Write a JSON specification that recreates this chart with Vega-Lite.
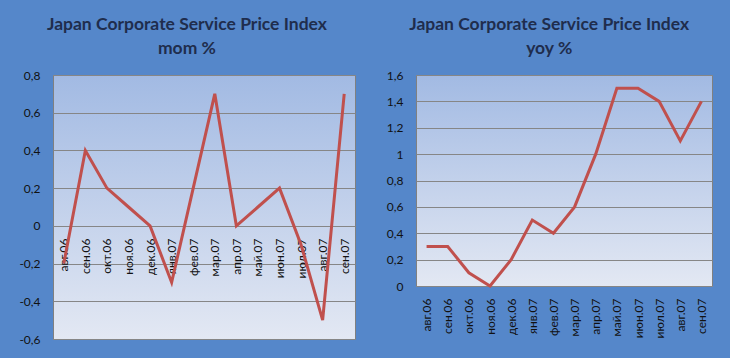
{
  "$schema": "https://vega.github.io/schema/vega-lite/v6.json",
  "background": "#5587CA",
  "padding": {"left": 18, "top": 15, "right": 18, "bottom": 18},
  "spacing": 29,
  "config": {
    "font": "Lato",
    "view": {"stroke": "#808080", "strokeWidth": 1, "fill": {"gradient": "linear", "x1": 0, "y1": 0, "x2": 0, "y2": 1, "stops": [{"offset": 0, "color": "#A2BAE3"}, {"offset": 1, "color": "#E3E8F3"}]}},
    "axis": {"labelFont": "Lato", "labelFontSize": 12, "labelColor": "#111111", "domain": false, "ticks": false, "title": null, "labelOverlap": false, "gridColor": "#868686"},
    "title": {"font": "Lato", "fontSize": 17.5, "fontWeight": "bold", "color": "#1F2D4D", "anchor": "middle", "frame": "bounds", "lineHeight": 24, "offset": 12}
  },
  "hconcat": [
    {
      "width": 302,
      "height": 264,
      "title": {"text": ["Japan Corporate Service Price Index", "mom %"]},
      "data": {"values": [
        {"month": "авг.06", "v": -0.2}, {"month": "сен.06", "v": 0.4}, {"month": "окт.06", "v": 0.2}, {"month": "ноя.06", "v": 0.1},
        {"month": "дек.06", "v": 0}, {"month": "янв.07", "v": -0.3}, {"month": "фев.07", "v": 0.2}, {"month": "мар.07", "v": 0.7},
        {"month": "апр.07", "v": 0}, {"month": "май.07", "v": 0.1}, {"month": "июн.07", "v": 0.2}, {"month": "июл.07", "v": -0.1},
        {"month": "авг.07", "v": -0.5}, {"month": "сен.07", "v": 0.7}
      ]},
      "mark": {"type": "line", "color": "#C0504D", "strokeWidth": 3},
      "encoding": {
        "x": {"field": "month", "type": "nominal", "sort": null, "axis": {"labelAngle": 270, "offset": -113, "labelPadding": 12, "grid": false}},
        "y": {"field": "v", "type": "quantitative", "scale": {"domain": [-0.6, 0.8], "nice": false}, "axis": {"values": [-0.6, -0.4, -0.2, 0, 0.2, 0.4, 0.6, 0.8], "labelExpr": "replace(replace(format(datum.value, '.1~f'), '.', ','), '\u2212', '-')", "grid": true, "labelPadding": 13}}
      }
    },
    {
      "width": 296,
      "height": 211,
      "title": {"text": ["Japan Corporate Service Price Index", "yoy %"]},
      "data": {"values": [
        {"month": "авг.06", "v": 0.3}, {"month": "сен.06", "v": 0.3}, {"month": "окт.06", "v": 0.1}, {"month": "ноя.06", "v": 0},
        {"month": "дек.06", "v": 0.2}, {"month": "янв.07", "v": 0.5}, {"month": "фев.07", "v": 0.4}, {"month": "мар.07", "v": 0.6},
        {"month": "апр.07", "v": 1.0}, {"month": "май.07", "v": 1.5}, {"month": "июн.07", "v": 1.5}, {"month": "июл.07", "v": 1.4},
        {"month": "авг.07", "v": 1.1}, {"month": "сен.07", "v": 1.4}
      ]},
      "mark": {"type": "line", "color": "#C0504D", "strokeWidth": 3},
      "encoding": {
        "x": {"field": "month", "type": "nominal", "sort": null, "axis": {"labelAngle": 270, "labelPadding": 12, "grid": false}},
        "y": {"field": "v", "type": "quantitative", "scale": {"domain": [0, 1.6], "nice": false}, "axis": {"values": [0, 0.2, 0.4, 0.6, 0.8, 1, 1.2, 1.4, 1.6], "labelExpr": "replace(format(datum.value, '.1~f'), '.', ',')", "grid": true, "labelPadding": 13}}
      }
    }
  ]
}
